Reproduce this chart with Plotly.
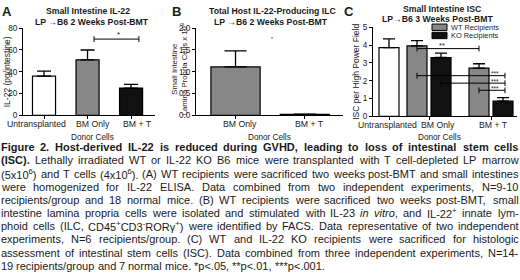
import plotly.graph_objects as go

W, H = 520, 280
def fx(x): return x / W
def fy(y): return 1 - y / H

# ---------------- data ----------------
a_categories = ["Untransplanted", "BM Only", "BM + T"]
a_il22 = [36, 51, 25]
a_il22_sem = [4.5, 9, 3.5]
a_ticks = [0, 20, 40, 60, 80]

b_categories = ["BM Only", "BM + T"]
b_ilc = [1.11, 0.02]
b_ilc_sem = [0.37, 0.004]
b_ticks = [0, 0.5, 1.0, 1.5, 2.0]
b_ticktext = ["0.0", "0.5", "1.0", "1.5", "2.0"]

c_categories = ["Untransplanted", "BM Only", "BM + T"]
c_series = ["WT Recipients", "KO Recipients"]
c_untx = [3.85]
c_untx_sem = [0.5]
c_wt = [3.95, 2.7]
c_wt_sem = [0.3, 0.25]
c_ko = [3.3, 0.85]
c_ko_sem = [0.25, 0.2]
c_ticks = [0, 1, 2, 3, 4, 5]

caption_lines = [
    "Figure 2. Host-derived IL-22 is reduced during GVHD, leading to loss of intestinal stem cells",
    "<b>(ISC).</b> Lethally irradiated WT or IL-22 KO B6 mice were transplanted with T cell-depleted LP marrow",
    "(5x10<sup>6</sup>) and T cells (4x10<sup>6</sup>). (A) WT recipients were sacrificed two weeks post-BMT and small intestines",
    "were homogenized for IL-22 ELISA. Data combined from two independent experiments, N=9-10",
    "recipients/group and 18 normal mice. (B) WT recipients were sacrificed two weeks post-BMT, small",
    "intestine lamina propria cells were isolated and stimulated with IL-23 <i>in</i> <i>vitro</i>, and IL-22<sup>+</sup> innate lym-",
    "phoid cells (ILC, CD45<sup>+</sup>CD3<sup>-</sup>ROR\u03b3<sup>+</sup>) were identified by FACS. Data representative of two independent",
    "experiments, N=6 recipients/group. (C) WT and IL-22 KO recipients were sacrificed for histologic",
    "assessment of intestinal stem cells (ISC). Data combined from three independent experiments, N=14-",
    "19 recipients/group and 7 normal mice. *p&lt;.05, **p&lt;.01, ***p&lt;.001.",
]

# ---------------- style ----------------
FONT = "Liberation Sans, Arial, sans-serif"
TXT = "#1a1a1a"
GRAY = "#878787"
BLACK = "#111111"
WHITE = "#ffffff"

fig = go.Figure()

def bar_err(sem, cap):
    return dict(type="data", symmetric=False, array=sem, arrayminus=[0] * len(sem),
                color="black", thickness=1.3, width=cap)

# Panel A
fig.add_trace(go.Bar(x=a_categories, y=a_il22, width=0.53,
                     marker=dict(color=[WHITE, GRAY, BLACK], line=dict(color="black", width=1.2)),
                     error_y=bar_err(a_il22_sem, 7), xaxis="x", yaxis="y", showlegend=False))
# Panel B
fig.add_trace(go.Bar(x=b_categories, y=b_ilc, width=0.71,
                     marker=dict(color=[GRAY, GRAY], line=dict(color="black", width=1.2)),
                     error_y=bar_err(b_ilc_sem, 11), xaxis="x2", yaxis="y2", showlegend=False))
# Panel C
C_CENTERS = [0.0, 1.0, 2.55]
C_OFF = 0.3
C_BW = 0.5
c_x_untx = [C_CENTERS[0]]
c_x_wt = [C_CENTERS[1] - C_OFF, C_CENTERS[2] - C_OFF]
c_x_ko = [C_CENTERS[1] + C_OFF, C_CENTERS[2] + C_OFF]
fig.add_trace(go.Bar(x=c_x_untx, y=c_untx, width=C_BW,
                     marker=dict(color=WHITE, line=dict(color="black", width=1.2)),
                     error_y=bar_err(c_untx_sem, 6), xaxis="x3", yaxis="y3", showlegend=False))
fig.add_trace(go.Bar(x=c_x_wt, y=c_wt, width=C_BW, name=c_series[0],
                     marker=dict(color=GRAY, line=dict(color="black", width=1.2)),
                     error_y=bar_err(c_wt_sem, 6), xaxis="x3", yaxis="y3", showlegend=False))
fig.add_trace(go.Bar(x=c_x_ko, y=c_ko, width=C_BW, name=c_series[1],
                     marker=dict(color=BLACK, line=dict(color="black", width=1.2)),
                     error_y=bar_err(c_ko_sem, 6), xaxis="x3", yaxis="y3", showlegend=False))

def axis_common(**kw):
    d = dict(showline=True, linecolor="black", linewidth=1, ticks="outside", ticklen=3,
             tickwidth=1, tickcolor="black", showgrid=False, zeroline=False, fixedrange=True,
             tickfont=dict(family=FONT, size=8.2, color=TXT), tickangle=0)
    d.update(kw)
    return d

Y0, YTOP = 115, 25
layout = dict(
    width=W, height=H, margin=dict(l=0, r=0, t=0, b=0), autosize=False,
    paper_bgcolor="white", plot_bgcolor="white", bargap=0,
    xaxis=axis_common(domain=[fx(23), fx(155)], range=[-0.483, 2.55], anchor="y",
                      type="category", categoryorder="array", categoryarray=a_categories,
                      showticklabels=False),
    yaxis=axis_common(domain=[fy(Y0), fy(YTOP)], range=[0, 80], anchor="x", tickvals=a_ticks),
    xaxis2=axis_common(domain=[fx(196), fx(343)], range=[-0.57, 1.55], anchor="y2",
                       type="category", categoryorder="array", categoryarray=b_categories,
                       showticklabels=False),
    yaxis2=axis_common(domain=[fy(Y0), fy(YTOP)], range=[0, 2.0], anchor="x2", tickvals=b_ticks,
                       ticktext=b_ticktext),
    xaxis3=axis_common(domain=[fx(373), fx(517)], range=[-0.4, 3.2], anchor="y3",
                       tickvals=C_CENTERS, ticktext=c_categories, showticklabels=False),
    yaxis3=axis_common(domain=[fy(116), fy(24)], range=[0, 5], anchor="x3", tickvals=c_ticks),
)
fig.update_layout(**layout)

ann = []
shapes = []

def text(t, x, y, size, bold=False, xanchor="center", yanchor="middle", angle=0, xref="paper", yref="paper"):
    if bold:
        t = "<b>" + t + "</b>"
    ann.append(dict(text=t, x=x, y=y, xref=xref, yref=yref, xanchor=xanchor, yanchor=yanchor,
                    showarrow=False, textangle=angle, borderpad=0, borderwidth=0,
                    font=dict(family=FONT, size=size, color=TXT)))

# Panel letters and titles
text("A", fx(2), fy(8), 13, bold=True, xanchor="left")
text("B", fx(172), fy(8), 13, bold=True, xanchor="left")
text("C", fx(344), fy(8), 13, bold=True, xanchor="left")
text("Small Intestine IL-22", fx(88), fy(7), 8.7, bold=True)
text("LP \u2192B6 2 Weeks Post-BMT", fx(92), fy(18.5), 8.7, bold=True)
text("Total Host IL-22-Producing ILC", fx(272), fy(7), 8.7, bold=True)
text("LP \u2192B6 2 Weeks Post-BMT", fx(271), fy(18.5), 8.7, bold=True)
text("Small Intestine ISC", fx(442), fy(5.5), 8.7, bold=True)
text("LP\u2192B6 3 Weeks Post-BMT", fx(438), fy(15.5), 8.7, bold=True)

# Category labels (placed as in the reference, slightly off the tick marks)
for lab, xc in zip(a_categories, [36, 93, 137]):
    text(lab, fx(xc), fy(124.5), 8.7)
for lab, xc in zip(b_categories, [240, 309]):
    text(lab, fx(xc), fy(124.5), 8.7)
for lab, xc in zip(c_categories, [387, 438, 493]):
    text(lab, fx(xc), fy(125), 8.7)

# Axis titles
text("IL-22 (pg/intestine)", fx(6.5), fy(70), 8.5, angle=-90)
text("Small Intestine<br>Lamina Propria Cells x 10<sup>3</sup>", fx(179.5), fy(68), 7.8, angle=-90)
text("ISC per High Power Field", fx(356), fy(70), 8.5, angle=-90)
text("Donor Cells", fx(92), fy(137.5), 8.2)
text("Donor Cells", fx(269), fy(137.5), 8.2)
text("Donor Cells", fx(439), fy(137.5), 8.2)

# Legend for C
LEG = [(c_series[0], GRAY, 24.0), (c_series[1], BLACK, 32.5)]
for name, col, yc in LEG:
    shapes.append(dict(type="rect", xref="paper", yref="paper", x0=fx(432), x1=fx(447),
                       y0=fy(yc + 3.3), y1=fy(yc - 3.3), fillcolor=col,
                       line=dict(color="black", width=1)))
    text(name, fx(451), fy(yc + 0.3), 7.4, xanchor="left")

# Significance brackets
def bracket(xr, yr, x0, x1, y, tick, label, lx, ly, lsize):
    shapes.append(dict(type="line", xref=xr, yref=yr, x0=x0, x1=x1, y0=y, y1=y,
                       line=dict(color="black", width=1)))
    for xe in (x0, x1):
        shapes.append(dict(type="line", xref=xr, yref=yr, x0=xe, x1=xe, y0=y - tick, y1=y + tick,
                           line=dict(color="black", width=1)))
    text(label, lx, ly, lsize, xref=xr, yref=yr)

# A: BM Only vs BM + T
bracket("x", "y", 1.15, 2.18, 70, 2.7, "*", 1.7, 74.5, 8)
# B
text("*", 0.52, 1.76, 5, xref="x2", yref="y2")
# C
c_end = c_x_ko[1] + 0.05
bracket("x3", "y3", c_x_wt[0], c_x_wt[1], 3.8, 0.16, "**", 1.32, 3.98, 7.5)
for xs, yv in [(c_x_wt[0], 2.28), (c_x_ko[0], 1.86), (c_x_wt[1], 1.46)]:
    bracket("x3", "y3", xs, c_end, yv, 0.16, "***", 2.65, yv + 0.1, 6.5)

# ---------------- caption (justified) ----------------
def tbl(up, lo, extra):
    d = {}
    for ch, w in zip("ABCDEFGHIJKLMNOPQRSTUVWXYZ", up):
        d[ch] = w
    for ch, w in zip("abcdefghijklmnopqrstuvwxyz", lo):
        d[ch] = w
    for ch in "0123456789":
        d[ch] = 556
    d.update(extra)
    return d

REG = tbl([667, 667, 722, 722, 667, 611, 778, 722, 278, 500, 667, 556, 833, 722, 778, 667, 778, 722, 667, 611, 722, 667, 944, 667, 667, 611],
          [556, 556, 500, 556, 556, 278, 556, 556, 222, 222, 500, 222, 833, 556, 556, 556, 556, 333, 500, 278, 556, 500, 722, 500, 500, 500],
          {" ": 278, "(": 333, ")": 333, ".": 278, ",": 278, "-": 333, "/": 278, ":": 278, "=": 584,
           "+": 584, "*": 389, "<": 584, "\u03b3": 500})
BOLD = tbl([722, 722, 722, 722, 667, 611, 778, 722, 278, 556, 722, 611, 833, 722, 778, 667, 778, 722, 667, 611, 722, 667, 944, 667, 667, 611],
           [556, 611, 556, 611, 556, 333, 611, 611, 278, 278, 556, 278, 889, 611, 611, 611, 611, 389, 556, 333, 611, 556, 778, 556, 556, 500],
           {" ": 278, "(": 333, ")": 333, ".": 278, ",": 278, "-": 333, "/": 278, ":": 333, "=": 584,
            "+": 584, "*": 389, "<": 584})

def measure(s, size):
    w = 0.0
    bold = sup = False
    i = 0
    while i < len(s):
        if s.startswith("&lt;", i):
            w += 584 * (0.7 if sup else 1)
            i += 4
            continue
        if s[i] == "<":
            j = s.index(">", i)
            tag = s[i + 1:j]
            if tag == "b": bold = True
            elif tag == "/b": bold = False
            elif tag == "sup": sup = True
            elif tag == "/sup": sup = False
            i = j + 1
            continue
        t = BOLD if bold else REG
        w += t.get(s[i], 556) * (0.7 if sup else 1)
        i += 1
    return w * size / 1000.0

CAP_SIZE = 11
CAP_X0, CAP_X1 = 1, 518.5
CAP_Y0, CAP_DY = 148, 13.6
for li, line in enumerate(caption_lines):
    words = line.split(" ")
    if li == 0:
        words = ["<b>" + w + "</b>" for w in words]
    widths = [measure(w, CAP_SIZE) for w in words]
    yc = CAP_Y0 + li * CAP_DY
    if li < len(caption_lines) - 1:
        gap = (CAP_X1 - CAP_X0 - sum(widths)) / (len(words) - 1)
    else:
        gap = 0.278 * CAP_SIZE
    xc = CAP_X0
    for w, wd in zip(words, widths):
        ann.append(dict(text=w, x=fx(xc), y=fy(yc), xref="paper", yref="paper",
                        xanchor="left", yanchor="middle", showarrow=False,
                        borderpad=0, borderwidth=0,
                        font=dict(family=FONT, size=CAP_SIZE, color=TXT)))
        xc += wd + gap

fig.update_layout(annotations=ann, shapes=shapes)

fig.write_html("out.html", config={"displayModeBar": False, "staticPlot": True},
               post_script="document.body.style.margin='0';document.body.style.overflow='hidden';")
